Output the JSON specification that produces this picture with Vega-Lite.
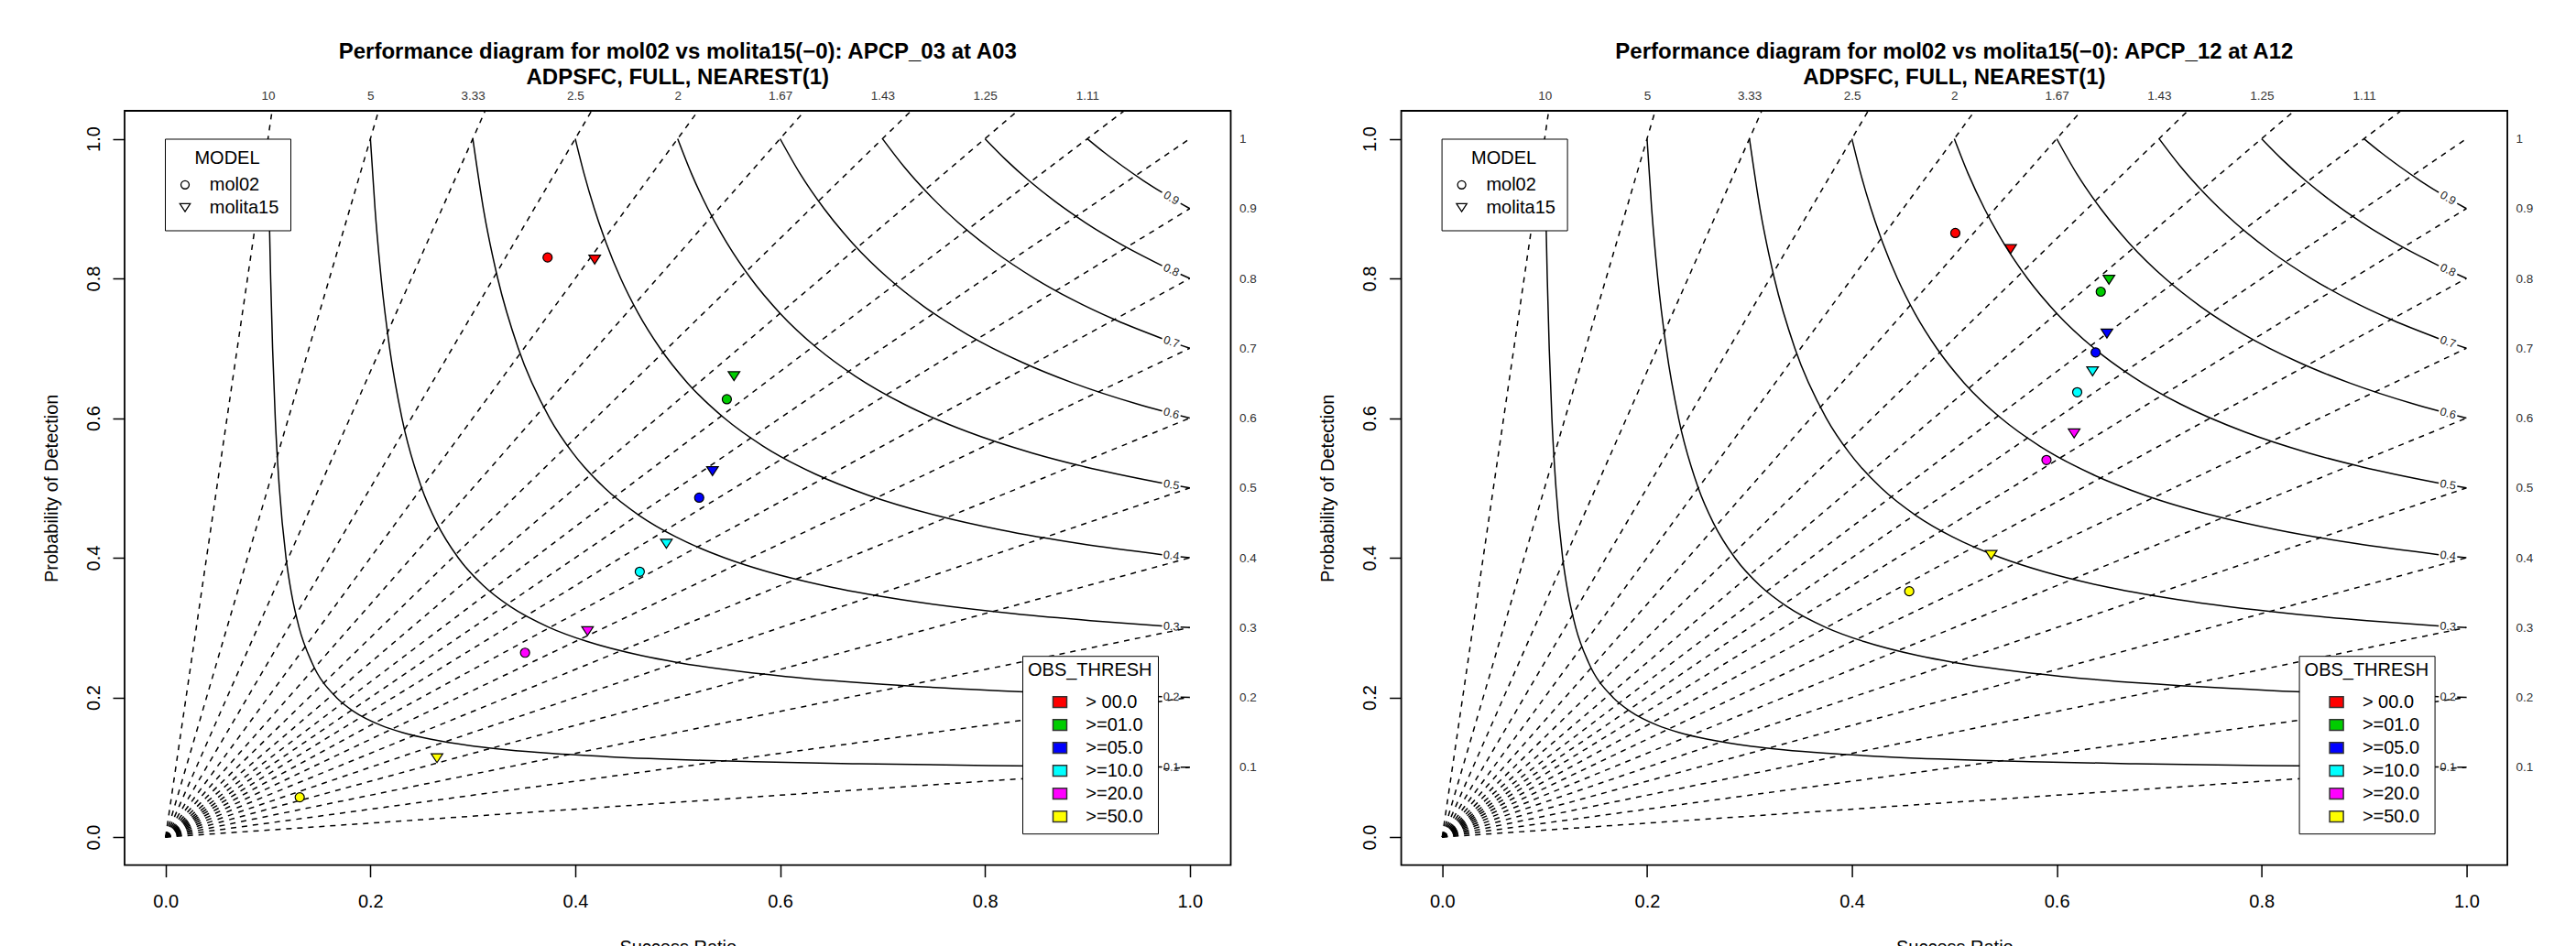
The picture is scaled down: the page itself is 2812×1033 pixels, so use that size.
{
  "$schema": "https://vega.github.io/schema/vega-lite/v6.json",
  "padding": {"left": 45, "top": 43, "right": 5, "bottom": 5},
  "config": {
    "font": "Liberation Sans",
    "view": {"stroke": "black", "strokeWidth": 1.8},
    "axis": {"grid": false, "labelFlush": false, "labelOverlap": false, "domain": false, "labelFont": "Liberation Sans", "titleFont": "Liberation Sans", "labelColor": "black", "titleColor": "black", "tickColor": "black"},
    "legend": {"labelFont": "Liberation Sans", "titleFont": "Liberation Sans", "labelColor": "black", "titleColor": "black", "labelLimit": 300, "columnPadding": 0},
    "title": {"font": "Liberation Sans", "fontSize": 24, "fontWeight": "bold", "lineHeight": 28.3, "anchor": "middle", "frame": "group", "color": "black"}
  },
  "datasets": {
    "bias": [
      {"b": "10", "x": 0, "y": 0}, {"b": "10", "x": 0.104, "y": 1.04},
      {"b": "5", "x": 0, "y": 0}, {"b": "5", "x": 0.208, "y": 1.04},
      {"b": "3.33", "x": 0, "y": 0}, {"b": "3.33", "x": 0.312, "y": 1.04},
      {"b": "2.5", "x": 0, "y": 0}, {"b": "2.5", "x": 0.416, "y": 1.04},
      {"b": "2", "x": 0, "y": 0}, {"b": "2", "x": 0.52, "y": 1.04},
      {"b": "1.67", "x": 0, "y": 0}, {"b": "1.67", "x": 0.624, "y": 1.04},
      {"b": "1.43", "x": 0, "y": 0}, {"b": "1.43", "x": 0.728, "y": 1.04},
      {"b": "1.25", "x": 0, "y": 0}, {"b": "1.25", "x": 0.832, "y": 1.04},
      {"b": "1.11", "x": 0, "y": 0}, {"b": "1.11", "x": 0.936, "y": 1.04},
      {"b": "1", "x": 0, "y": 0}, {"b": "1", "x": 1, "y": 1},
      {"b": "0.9", "x": 0, "y": 0}, {"b": "0.9", "x": 1, "y": 0.9},
      {"b": "0.8", "x": 0, "y": 0}, {"b": "0.8", "x": 1, "y": 0.8},
      {"b": "0.7", "x": 0, "y": 0}, {"b": "0.7", "x": 1, "y": 0.7},
      {"b": "0.6", "x": 0, "y": 0}, {"b": "0.6", "x": 1, "y": 0.6},
      {"b": "0.5", "x": 0, "y": 0}, {"b": "0.5", "x": 1, "y": 0.5},
      {"b": "0.4", "x": 0, "y": 0}, {"b": "0.4", "x": 1, "y": 0.4},
      {"b": "0.3", "x": 0, "y": 0}, {"b": "0.3", "x": 1, "y": 0.3},
      {"b": "0.2", "x": 0, "y": 0}, {"b": "0.2", "x": 1, "y": 0.2},
      {"b": "0.1", "x": 0, "y": 0}, {"b": "0.1", "x": 1, "y": 0.1}
    ],
    "csi": [
      {"c": 0.1, "g": "m", "x": 0.1, "y": 1}, {"c": 0.1, "g": "m", "x": 0.1011, "y": 0.9}, {"c": 0.1, "g": "m", "x": 0.1026, "y": 0.8}, {"c": 0.1, "g": "m", "x": 0.1045, "y": 0.7}, {"c": 0.1, "g": "m", "x": 0.1071, "y": 0.6}, {"c": 0.1, "g": "m", "x": 0.1111, "y": 0.5}, {"c": 0.1, "g": "m", "x": 0.1176, "y": 0.4}, {"c": 0.1, "g": "m", "x": 0.1228, "y": 0.35}, {"c": 0.1, "g": "m", "x": 0.1304, "y": 0.3}, {"c": 0.1, "g": "m", "x": 0.1429, "y": 0.25}, {"c": 0.1, "g": "m", "x": 0.1667, "y": 0.2}, {"c": 0.1, "g": "m", "x": 0.1837, "y": 0.18}, {"c": 0.1, "g": "m", "x": 0.2105, "y": 0.16}, {"c": 0.1, "g": "m", "x": 0.2308, "y": 0.15}, {"c": 0.1, "g": "m", "x": 0.2593, "y": 0.14}, {"c": 0.1, "g": "m", "x": 0.3023, "y": 0.13}, {"c": 0.1, "g": "m", "x": 0.3333, "y": 0.125}, {"c": 0.1, "g": "m", "x": 0.375, "y": 0.12}, {"c": 0.1, "g": "m", "x": 0.434, "y": 0.115}, {"c": 0.1, "g": "m", "x": 0.5238, "y": 0.11}, {"c": 0.1, "g": "m", "x": 0.5744, "y": 0.108}, {"c": 0.1, "g": "m", "x": 0.6774, "y": 0.105}, {"c": 0.1, "g": "m", "x": 0.804, "y": 0.1025}, {"c": 0.1, "g": "m", "x": 0.973, "y": 0.10028},
      {"c": 0.1, "g": "t", "x": 0.991, "y": 0.10009}, {"c": 0.1, "g": "t", "x": 1, "y": 0.1},
      {"c": 0.2, "g": "m", "x": 0.2, "y": 1}, {"c": 0.2, "g": "m", "x": 0.2045, "y": 0.9}, {"c": 0.2, "g": "m", "x": 0.2105, "y": 0.8}, {"c": 0.2, "g": "m", "x": 0.2188, "y": 0.7}, {"c": 0.2, "g": "m", "x": 0.2308, "y": 0.6}, {"c": 0.2, "g": "m", "x": 0.25, "y": 0.5}, {"c": 0.2, "g": "m", "x": 0.2647, "y": 0.45}, {"c": 0.2, "g": "m", "x": 0.2857, "y": 0.4}, {"c": 0.2, "g": "m", "x": 0.3103, "y": 0.36}, {"c": 0.2, "g": "m", "x": 0.3367, "y": 0.33}, {"c": 0.2, "g": "m", "x": 0.375, "y": 0.3}, {"c": 0.2, "g": "m", "x": 0.4118, "y": 0.28}, {"c": 0.2, "g": "m", "x": 0.4643, "y": 0.26}, {"c": 0.2, "g": "m", "x": 0.5, "y": 0.25}, {"c": 0.2, "g": "m", "x": 0.5455, "y": 0.24}, {"c": 0.2, "g": "m", "x": 0.6053, "y": 0.23}, {"c": 0.2, "g": "m", "x": 0.6875, "y": 0.22}, {"c": 0.2, "g": "m", "x": 0.8077, "y": 0.21}, {"c": 0.2, "g": "m", "x": 0.973, "y": 0.20112},
      {"c": 0.2, "g": "t", "x": 0.991, "y": 0.20036}, {"c": 0.2, "g": "t", "x": 1, "y": 0.2},
      {"c": 0.3, "g": "m", "x": 0.3, "y": 1}, {"c": 0.3, "g": "m", "x": 0.3103, "y": 0.9}, {"c": 0.3, "g": "m", "x": 0.3243, "y": 0.8}, {"c": 0.3, "g": "m", "x": 0.3443, "y": 0.7}, {"c": 0.3, "g": "m", "x": 0.375, "y": 0.6}, {"c": 0.3, "g": "m", "x": 0.3976, "y": 0.55}, {"c": 0.3, "g": "m", "x": 0.4286, "y": 0.5}, {"c": 0.3, "g": "m", "x": 0.4631, "y": 0.46}, {"c": 0.3, "g": "m", "x": 0.4981, "y": 0.43}, {"c": 0.3, "g": "m", "x": 0.5455, "y": 0.4}, {"c": 0.3, "g": "m", "x": 0.5876, "y": 0.38}, {"c": 0.3, "g": "m", "x": 0.6429, "y": 0.36}, {"c": 0.3, "g": "m", "x": 0.7183, "y": 0.34}, {"c": 0.3, "g": "m", "x": 0.8276, "y": 0.32}, {"c": 0.3, "g": "m", "x": 0.9029, "y": 0.31}, {"c": 0.3, "g": "m", "x": 0.973, "y": 0.30252},
      {"c": 0.3, "g": "t", "x": 0.991, "y": 0.30082}, {"c": 0.3, "g": "t", "x": 1, "y": 0.3},
      {"c": 0.4, "g": "m", "x": 0.4, "y": 1}, {"c": 0.4, "g": "m", "x": 0.4086, "y": 0.95}, {"c": 0.4, "g": "m", "x": 0.4186, "y": 0.9}, {"c": 0.4, "g": "m", "x": 0.4304, "y": 0.85}, {"c": 0.4, "g": "m", "x": 0.4444, "y": 0.8}, {"c": 0.4, "g": "m", "x": 0.4615, "y": 0.75}, {"c": 0.4, "g": "m", "x": 0.4828, "y": 0.7}, {"c": 0.4, "g": "m", "x": 0.5098, "y": 0.65}, {"c": 0.4, "g": "m", "x": 0.5455, "y": 0.6}, {"c": 0.4, "g": "m", "x": 0.5833, "y": 0.56}, {"c": 0.4, "g": "m", "x": 0.6341, "y": 0.52}, {"c": 0.4, "g": "m", "x": 0.6853, "y": 0.49}, {"c": 0.4, "g": "m", "x": 0.7541, "y": 0.46}, {"c": 0.4, "g": "m", "x": 0.8148, "y": 0.44}, {"c": 0.4, "g": "m", "x": 0.8936, "y": 0.42}, {"c": 0.4, "g": "m", "x": 0.973, "y": 0.40449},
      {"c": 0.4, "g": "t", "x": 0.991, "y": 0.40146}, {"c": 0.4, "g": "t", "x": 1, "y": 0.4},
      {"c": 0.5, "g": "m", "x": 0.5, "y": 1}, {"c": 0.5, "g": "m", "x": 0.5135, "y": 0.95}, {"c": 0.5, "g": "m", "x": 0.5294, "y": 0.9}, {"c": 0.5, "g": "m", "x": 0.5484, "y": 0.85}, {"c": 0.5, "g": "m", "x": 0.5714, "y": 0.8}, {"c": 0.5, "g": "m", "x": 0.6, "y": 0.75}, {"c": 0.5, "g": "m", "x": 0.6364, "y": 0.7}, {"c": 0.5, "g": "m", "x": 0.6735, "y": 0.66}, {"c": 0.5, "g": "m", "x": 0.7209, "y": 0.62}, {"c": 0.5, "g": "m", "x": 0.7838, "y": 0.58}, {"c": 0.5, "g": "m", "x": 0.8462, "y": 0.55}, {"c": 0.5, "g": "m", "x": 0.8983, "y": 0.53}, {"c": 0.5, "g": "m", "x": 0.973, "y": 0.50703},
      {"c": 0.5, "g": "t", "x": 0.991, "y": 0.50228}, {"c": 0.5, "g": "t", "x": 1, "y": 0.5},
      {"c": 0.6, "g": "m", "x": 0.6, "y": 1}, {"c": 0.6, "g": "m", "x": 0.6195, "y": 0.95}, {"c": 0.6, "g": "m", "x": 0.6429, "y": 0.9}, {"c": 0.6, "g": "m", "x": 0.6711, "y": 0.85}, {"c": 0.6, "g": "m", "x": 0.7059, "y": 0.8}, {"c": 0.6, "g": "m", "x": 0.7403, "y": 0.76}, {"c": 0.6, "g": "m", "x": 0.7826, "y": 0.72}, {"c": 0.6, "g": "m", "x": 0.8361, "y": 0.68}, {"c": 0.6, "g": "m", "x": 0.8864, "y": 0.65}, {"c": 0.6, "g": "m", "x": 0.949, "y": 0.62}, {"c": 0.6, "g": "m", "x": 0.973, "y": 0.61015},
      {"c": 0.6, "g": "t", "x": 0.991, "y": 0.60327}, {"c": 0.6, "g": "t", "x": 1, "y": 0.6},
      {"c": 0.7, "g": "m", "x": 0.7, "y": 1}, {"c": 0.7, "g": "m", "x": 0.721, "y": 0.96}, {"c": 0.7, "g": "m", "x": 0.7454, "y": 0.92}, {"c": 0.7, "g": "m", "x": 0.7739, "y": 0.88}, {"c": 0.7, "g": "m", "x": 0.8077, "y": 0.84}, {"c": 0.7, "g": "m", "x": 0.8485, "y": 0.8}, {"c": 0.7, "g": "m", "x": 0.885, "y": 0.77}, {"c": 0.7, "g": "m", "x": 0.9283, "y": 0.74}, {"c": 0.7, "g": "m", "x": 0.973, "y": 0.71386},
      {"c": 0.7, "g": "t", "x": 0.991, "y": 0.70447}, {"c": 0.7, "g": "t", "x": 1, "y": 0.7},
      {"c": 0.8, "g": "m", "x": 0.8, "y": 1}, {"c": 0.8, "g": "m", "x": 0.8203, "y": 0.97}, {"c": 0.8, "g": "m", "x": 0.843, "y": 0.94}, {"c": 0.8, "g": "m", "x": 0.8687, "y": 0.91}, {"c": 0.8, "g": "m", "x": 0.898, "y": 0.88}, {"c": 0.8, "g": "m", "x": 0.9315, "y": 0.85}, {"c": 0.8, "g": "m", "x": 0.973, "y": 0.81816},
      {"c": 0.8, "g": "t", "x": 0.991, "y": 0.80585}, {"c": 0.8, "g": "t", "x": 1, "y": 0.8},
      {"c": 0.9, "g": "m", "x": 0.9, "y": 1}, {"c": 0.9, "g": "m", "x": 0.9168, "y": 0.98}, {"c": 0.9, "g": "m", "x": 0.9351, "y": 0.96}, {"c": 0.9, "g": "m", "x": 0.9548, "y": 0.94}, {"c": 0.9, "g": "m", "x": 0.973, "y": 0.92306},
      {"c": 0.9, "g": "t", "x": 0.991, "y": 0.90743}, {"c": 0.9, "g": "t", "x": 1, "y": 0.9}
    ],
    "csil": [
      {"c": 0.1, "t": "0.1", "x": 0.982, "y": 0.10018},
      {"c": 0.2, "t": "0.2", "x": 0.982, "y": 0.20074},
      {"c": 0.3, "t": "0.3", "x": 0.982, "y": 0.30166},
      {"c": 0.4, "t": "0.4", "x": 0.982, "y": 0.40295},
      {"c": 0.5, "t": "0.5", "x": 0.982, "y": 0.50462},
      {"c": 0.6, "t": "0.6", "x": 0.982, "y": 0.60667},
      {"c": 0.7, "t": "0.7", "x": 0.982, "y": 0.70909},
      {"c": 0.8, "t": "0.8", "x": 0.982, "y": 0.8119},
      {"c": 0.9, "t": "0.9", "x": 0.982, "y": 0.91511}
    ],
    "p03": [
      {"model": "mol02", "thresh": "> 00.0", "x": 0.373, "y": 0.830},
      {"model": "mol02", "thresh": ">=01.0", "x": 0.548, "y": 0.627},
      {"model": "mol02", "thresh": ">=05.0", "x": 0.521, "y": 0.486},
      {"model": "mol02", "thresh": ">=10.0", "x": 0.463, "y": 0.380},
      {"model": "mol02", "thresh": ">=20.0", "x": 0.351, "y": 0.264},
      {"model": "mol02", "thresh": ">=50.0", "x": 0.131, "y": 0.057},
      {"model": "molita15", "thresh": "> 00.0", "x": 0.419, "y": 0.827},
      {"model": "molita15", "thresh": ">=01.0", "x": 0.555, "y": 0.660},
      {"model": "molita15", "thresh": ">=05.0", "x": 0.534, "y": 0.524},
      {"model": "molita15", "thresh": ">=10.0", "x": 0.489, "y": 0.420},
      {"model": "molita15", "thresh": ">=20.0", "x": 0.412, "y": 0.295},
      {"model": "molita15", "thresh": ">=50.0", "x": 0.265, "y": 0.113}
    ],
    "p12": [
      {"model": "mol02", "thresh": "> 00.0", "x": 0.501, "y": 0.865},
      {"model": "mol02", "thresh": ">=01.0", "x": 0.643, "y": 0.781},
      {"model": "mol02", "thresh": ">=05.0", "x": 0.638, "y": 0.694},
      {"model": "mol02", "thresh": ">=10.0", "x": 0.620, "y": 0.637},
      {"model": "mol02", "thresh": ">=20.0", "x": 0.590, "y": 0.540},
      {"model": "mol02", "thresh": ">=50.0", "x": 0.456, "y": 0.352},
      {"model": "molita15", "thresh": "> 00.0", "x": 0.555, "y": 0.842},
      {"model": "molita15", "thresh": ">=01.0", "x": 0.651, "y": 0.798},
      {"model": "molita15", "thresh": ">=05.0", "x": 0.649, "y": 0.721},
      {"model": "molita15", "thresh": ">=10.0", "x": 0.635, "y": 0.667},
      {"model": "molita15", "thresh": ">=20.0", "x": 0.617, "y": 0.578},
      {"model": "molita15", "thresh": ">=50.0", "x": 0.536, "y": 0.404}
    ]
  },
  "spacing": 185.6,
  "bounds": "flush",
  "resolve": {"scale": {"fill": "independent", "shape": "independent", "angle": "independent", "x": "independent", "y": "independent"}, "legend": {"fill": "independent", "shape": "independent"}},
  "hconcat": [
    {
      "width": 1207.5, "height": 823.6,
      "title": {"text": ["Performance diagram for mol02 vs molita15(−0): APCP_03 at A03", "ADPSFC, FULL, NEAREST(1)"], "offset": 1},
      "resolve": {"axis": {"x": "independent", "y": "independent"}},
      "layer": [
        {
          "data": {"name": "bias"},
          "mark": {"type": "line", "color": "black", "strokeWidth": 1.5, "strokeDash": [6, 6]},
          "encoding": {
            "x": {"field": "x", "type": "quantitative", "scale": {"domain": [-0.04, 1.04], "nice": false, "zero": false},
              "axis": {"orient": "bottom", "values": [0, 0.2, 0.4, 0.6, 0.8, 1], "format": ".1f", "tickSize": 13, "tickWidth": 1.5, "labelFontSize": 20, "labelPadding": 16.5, "title": "Success Ratio", "titleFontSize": 20, "titleFontWeight": "normal", "titleBaseline": "top", "titlePadding": 29.5, "minExtent": 50, "maxExtent": 50}},
            "y": {"field": "y", "type": "quantitative", "scale": {"domain": [-0.04, 1.04], "nice": false, "zero": false},
              "axis": {"orient": "left", "values": [0, 0.2, 0.4, 0.6, 0.8, 1], "format": ".1f", "tickSize": 13, "tickWidth": 1.5, "labelFontSize": 20, "labelAngle": -90, "labelAlign": "center", "labelBaseline": "alphabetic", "labelPadding": 15, "title": "Probability of Detection", "titleFontSize": 20, "titleFontWeight": "normal", "titleBaseline": "alphabetic", "titlePadding": 23.8, "minExtent": 50, "maxExtent": 50}},
            "detail": {"field": "b", "type": "nominal"}
          }
        },
        {
          "data": {"name": "csi"},
          "mark": {"type": "line", "color": "black", "strokeWidth": 1.5, "interpolate": "monotone"},
          "encoding": {
            "x": {"field": "x", "type": "quantitative",
              "axis": {"orient": "top", "values": [0.1, 0.2, 0.3, 0.4, 0.5, 0.6, 0.7, 0.8, 0.9], "labelExpr": "format(1/datum.value, '.3~r')", "ticks": false, "labelFontSize": 13.5, "labelPadding": 9, "labelColor": "#333", "title": null}},
            "y": {"field": "y", "type": "quantitative",
              "axis": {"orient": "right", "values": [0.1, 0.2, 0.3, 0.4, 0.5, 0.6, 0.7, 0.8, 0.9, 1], "format": ".1~f", "ticks": false, "labelFontSize": 13.5, "labelPadding": 9, "labelColor": "#333", "title": null}},
            "detail": [{"field": "c", "type": "nominal"}, {"field": "g", "type": "nominal"}]
          }
        },
        {
          "data": {"name": "csil"},
          "mark": {"type": "text", "fontSize": 12.5, "color": "#222", "align": "center", "baseline": "middle"},
          "encoding": {
            "x": {"field": "x", "type": "quantitative", "axis": null},
            "y": {"field": "y", "type": "quantitative", "axis": null},
            "text": {"field": "t"},
            "angle": {"field": "c", "type": "quantitative", "legend": null, "scale": {"domain": [0.1, 0.2, 0.3, 0.4, 0.5, 0.6, 0.7, 0.8, 0.9], "range": [0.4, 1.6, 3.7, 6.6, 10.3, 14.7, 19.7, 25.1, 30.8]}}
          }
        },
        {
          "data": {"name": "p03"},
          "mark": {"type": "point", "filled": true, "opacity": 1, "stroke": "black", "strokeWidth": 1.2, "size": 100},
          "encoding": {
            "x": {"field": "x", "type": "quantitative", "axis": null},
            "y": {"field": "y", "type": "quantitative", "axis": null},
            "shape": {"field": "model", "type": "nominal", "scale": {"domain": ["mol02", "molita15"], "range": ["circle", "M-1.27,-0.97L1.27,-0.97L0,0.97Z"]},
              "legend": {"title": "MODEL", "orient": "none", "legendX": 44, "legendY": 30.5, "titleFontSize": 20, "titleFontWeight": "normal", "titleAnchor": "middle", "titlePadding": 6.2, "labelFontSize": 20, "symbolSize": 80, "padding": 12, "columnPadding": 0, "strokeColor": "black", "fillColor": "white", "clipHeight": 24.2, "rowPadding": 0, "labelOffset": 16.8, "symbolStrokeWidth": 1.3, "symbolFillColor": "white", "symbolStrokeColor": "black",
                "encode": {"symbols": {"fill": {"value": "white"}, "stroke": {"value": "black"}, "strokeWidth": {"value": 1.3}, "opacity": {"value": 1}}}}},
            "fill": {"field": "thresh", "type": "nominal", "scale": {"domain": ["> 00.0", ">=01.0", ">=05.0", ">=10.0", ">=20.0", ">=50.0"], "range": ["#FF0000", "#00CD00", "#0000FF", "#00FFFF", "#FF00FF", "#FFFF00"]},
              "legend": {"title": "OBS_THRESH", "orient": "none", "legendX": 980, "legendY": 595.2, "titleFontSize": 20, "titleFontWeight": "normal", "titlePadding": 12, "labelFontSize": 20, "symbolSize": 225, "padding": 6, "columnPadding": 0, "strokeColor": "black", "fillColor": "white", "clipHeight": 24.67, "rowPadding": 0, "symbolOffset": 25, "labelOffset": 18.3, "symbolType": "M-1,-0.78H1V0.78H-1Z", "symbolStrokeColor": "#333", "symbolStrokeWidth": 1.5,
                "encode": {"symbols": {"shape": {"value": "M-1,-0.78H1V0.78H-1Z"}, "stroke": {"value": "#333"}, "strokeWidth": {"value": 1.5}, "opacity": {"value": 1}}}}}
          }
        }
      ]
    },
    {
      "width": 1207.5, "height": 823.6,
      "title": {"text": ["Performance diagram for mol02 vs molita15(−0): APCP_12 at A12", "ADPSFC, FULL, NEAREST(1)"], "offset": 1},
      "resolve": {"axis": {"x": "independent", "y": "independent"}},
      "layer": [
        {
          "data": {"name": "bias"},
          "mark": {"type": "line", "color": "black", "strokeWidth": 1.5, "strokeDash": [6, 6]},
          "encoding": {
            "x": {"field": "x", "type": "quantitative", "scale": {"domain": [-0.04, 1.04], "nice": false, "zero": false},
              "axis": {"orient": "bottom", "values": [0, 0.2, 0.4, 0.6, 0.8, 1], "format": ".1f", "tickSize": 13, "tickWidth": 1.5, "labelFontSize": 20, "labelPadding": 16.5, "title": "Success Ratio", "titleFontSize": 20, "titleFontWeight": "normal", "titleBaseline": "top", "titlePadding": 29.5, "minExtent": 50, "maxExtent": 50}},
            "y": {"field": "y", "type": "quantitative", "scale": {"domain": [-0.04, 1.04], "nice": false, "zero": false},
              "axis": {"orient": "left", "values": [0, 0.2, 0.4, 0.6, 0.8, 1], "format": ".1f", "tickSize": 13, "tickWidth": 1.5, "labelFontSize": 20, "labelAngle": -90, "labelAlign": "center", "labelBaseline": "alphabetic", "labelPadding": 15, "title": "Probability of Detection", "titleFontSize": 20, "titleFontWeight": "normal", "titleBaseline": "alphabetic", "titlePadding": 23.8, "minExtent": 50, "maxExtent": 50}},
            "detail": {"field": "b", "type": "nominal"}
          }
        },
        {
          "data": {"name": "csi"},
          "mark": {"type": "line", "color": "black", "strokeWidth": 1.5, "interpolate": "monotone"},
          "encoding": {
            "x": {"field": "x", "type": "quantitative",
              "axis": {"orient": "top", "values": [0.1, 0.2, 0.3, 0.4, 0.5, 0.6, 0.7, 0.8, 0.9], "labelExpr": "format(1/datum.value, '.3~r')", "ticks": false, "labelFontSize": 13.5, "labelPadding": 9, "labelColor": "#333", "title": null}},
            "y": {"field": "y", "type": "quantitative",
              "axis": {"orient": "right", "values": [0.1, 0.2, 0.3, 0.4, 0.5, 0.6, 0.7, 0.8, 0.9, 1], "format": ".1~f", "ticks": false, "labelFontSize": 13.5, "labelPadding": 9, "labelColor": "#333", "title": null}},
            "detail": [{"field": "c", "type": "nominal"}, {"field": "g", "type": "nominal"}]
          }
        },
        {
          "data": {"name": "csil"},
          "mark": {"type": "text", "fontSize": 12.5, "color": "#222", "align": "center", "baseline": "middle"},
          "encoding": {
            "x": {"field": "x", "type": "quantitative", "axis": null},
            "y": {"field": "y", "type": "quantitative", "axis": null},
            "text": {"field": "t"},
            "angle": {"field": "c", "type": "quantitative", "legend": null, "scale": {"domain": [0.1, 0.2, 0.3, 0.4, 0.5, 0.6, 0.7, 0.8, 0.9], "range": [0.4, 1.6, 3.7, 6.6, 10.3, 14.7, 19.7, 25.1, 30.8]}}
          }
        },
        {
          "data": {"name": "p12"},
          "mark": {"type": "point", "filled": true, "opacity": 1, "stroke": "black", "strokeWidth": 1.2, "size": 100},
          "encoding": {
            "x": {"field": "x", "type": "quantitative", "axis": null},
            "y": {"field": "y", "type": "quantitative", "axis": null},
            "shape": {"field": "model", "type": "nominal", "scale": {"domain": ["mol02", "molita15"], "range": ["circle", "M-1.27,-0.97L1.27,-0.97L0,0.97Z"]},
              "legend": {"title": "MODEL", "orient": "none", "legendX": 44, "legendY": 30.5, "titleFontSize": 20, "titleFontWeight": "normal", "titleAnchor": "middle", "titlePadding": 6.2, "labelFontSize": 20, "symbolSize": 80, "padding": 12, "columnPadding": 0, "strokeColor": "black", "fillColor": "white", "clipHeight": 24.2, "rowPadding": 0, "labelOffset": 16.8, "symbolStrokeWidth": 1.3, "symbolFillColor": "white", "symbolStrokeColor": "black",
                "encode": {"symbols": {"fill": {"value": "white"}, "stroke": {"value": "black"}, "strokeWidth": {"value": 1.3}, "opacity": {"value": 1}}}}},
            "fill": {"field": "thresh", "type": "nominal", "scale": {"domain": ["> 00.0", ">=01.0", ">=05.0", ">=10.0", ">=20.0", ">=50.0"], "range": ["#FF0000", "#00CD00", "#0000FF", "#00FFFF", "#FF00FF", "#FFFF00"]},
              "legend": {"title": "OBS_THRESH", "orient": "none", "legendX": 980, "legendY": 595.2, "titleFontSize": 20, "titleFontWeight": "normal", "titlePadding": 12, "labelFontSize": 20, "symbolSize": 225, "padding": 6, "columnPadding": 0, "strokeColor": "black", "fillColor": "white", "clipHeight": 24.67, "rowPadding": 0, "symbolOffset": 25, "labelOffset": 18.3, "symbolType": "M-1,-0.78H1V0.78H-1Z", "symbolStrokeColor": "#333", "symbolStrokeWidth": 1.5,
                "encode": {"symbols": {"shape": {"value": "M-1,-0.78H1V0.78H-1Z"}, "stroke": {"value": "#333"}, "strokeWidth": {"value": 1.5}, "opacity": {"value": 1}}}}}
          }
        }
      ]
    }
  ]
}
